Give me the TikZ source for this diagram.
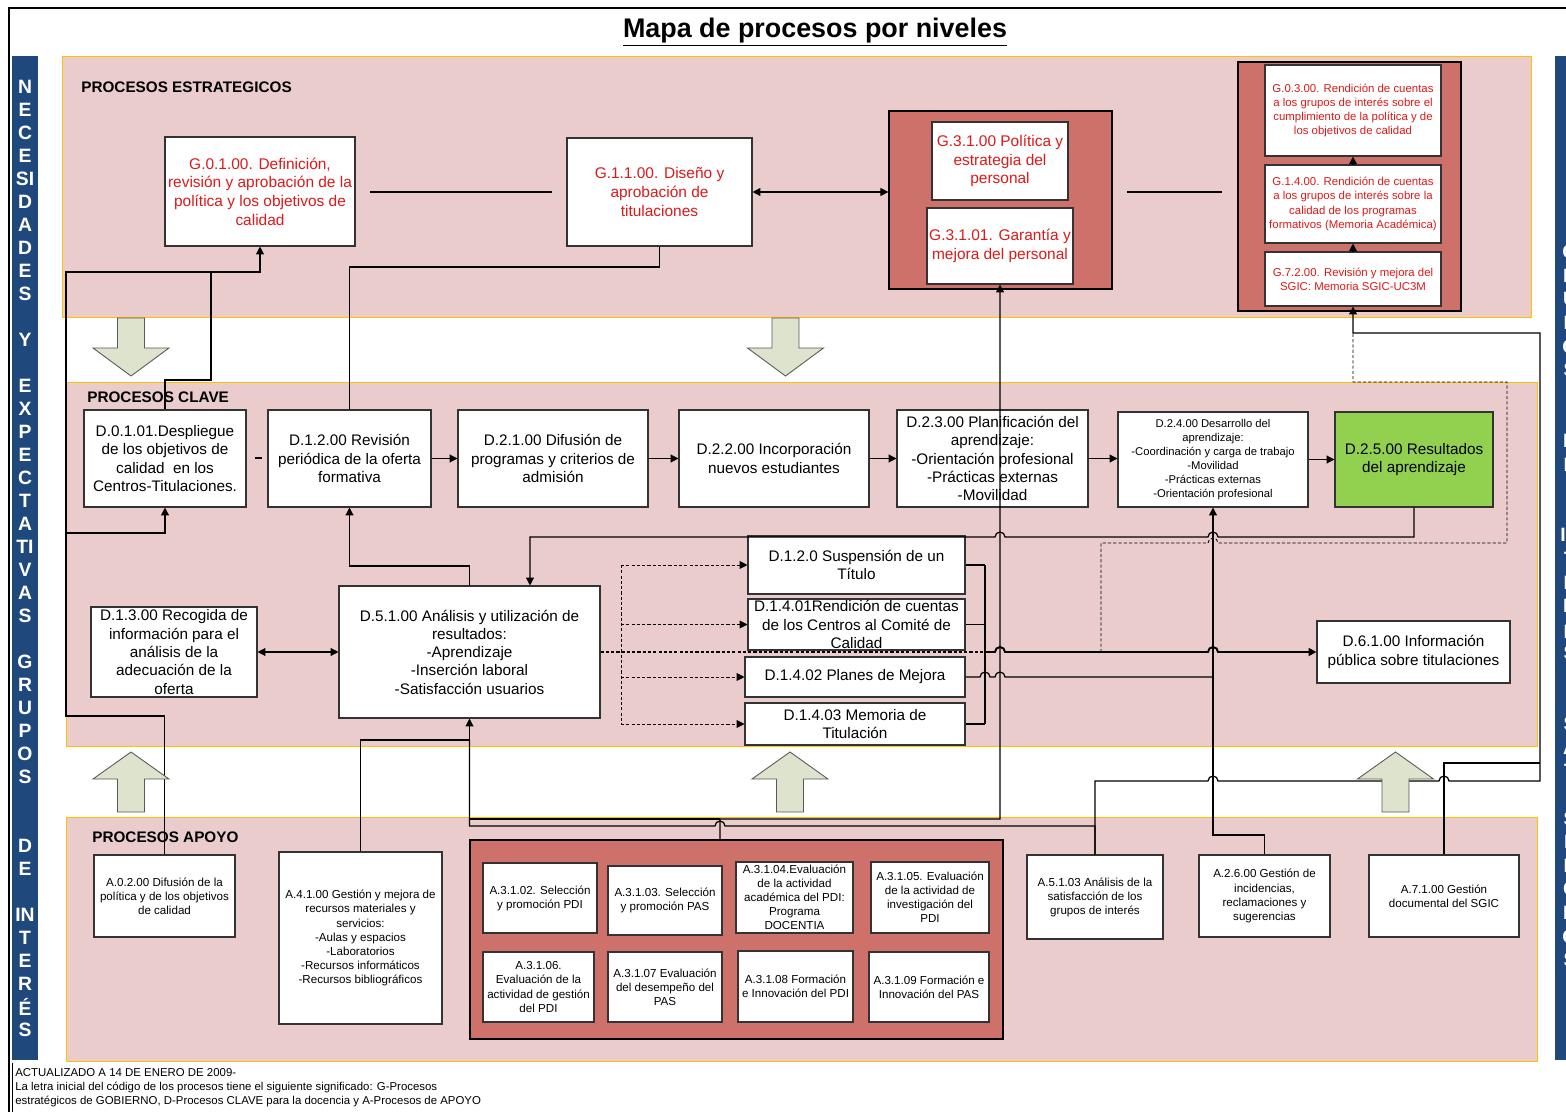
\documentclass[tikz,border=0pt]{standalone}
\usepackage{fontspec}
\setmainfont{Liberation Sans}
\usetikzlibrary{arrows.meta}

\definecolor{bandpink}{RGB}{234,204,204}
\definecolor{bandedge}{RGB}{255,192,0}
\definecolor{grpred}{RGB}{205,113,106}
\definecolor{gred}{RGB}{221,26,26}
\definecolor{dgreen}{RGB}{146,208,80}
\definecolor{barblue}{RGB}{31,73,125}
\definecolor{arrowfill}{RGB}{221,227,204}

\tikzset{
  band/.style={fill=bandpink, draw=bandedge, line width=0.5pt},
  grp/.style={fill=grpred, draw=black, line width=0.7pt},
  sz/.style 2 args={minimum width=#1*0.02cm, minimum height=#2*0.02cm},
  dbox/.style={draw=black!80, fill=white, align=center, inner sep=1pt, line width=0.6pt,
    font=\fontsize{8.7}{10.4}\selectfont},
  abox/.style={dbox, font=\fontsize{6.6}{8}\selectfont},
  gbox/.style={dbox, text=gred, font=\fontsize{8.8}{10.6}\selectfont},
  gsmall/.style={dbox, text=gred, font=\fontsize{6.5}{8}\selectfont},
  seclabel/.style={anchor=west, inner sep=0, font=\bfseries\fontsize{8.7}{10}\selectfont},
  barletter/.style={text=white, inner sep=0, font=\bfseries\fontsize{11}{12}\selectfont},
  conn/.style={draw, line width=0.7pt},
  bigarrow/.style={fill=arrowfill, draw=black!65, line width=0.5pt},
  >={Triangle[length=4.5pt,width=4.5pt]},
  dashed/.style={dash pattern=on 1.8pt off 1.2pt},
}
\newcommand{\hopover}[2]{-- (#1-5,#2) arc[start angle=180,end angle=0,radius=0.1cm]}

\begin{document}
\begin{tikzpicture}[x=0.02cm,y=-0.02cm]
\useasboundingbox (0,0) rectangle (1566,1112);

% frame and title
\draw[line width=1.4pt] (9,1112) -- (9,8) -- (1566,8);
\draw[line width=0.5pt] (12,1063) -- (12,1112);
\node[font=\bfseries\fontsize{15.3}{18}\selectfont] (title) at (815,32) {\underline{Mapa de procesos por niveles}};

% side bars
\fill[barblue] (12,56) rectangle (38,1060);
\foreach \i/\ch in {0/N,1/E,2/C,3/E,4/SI,5/D,6/A,7/D,8/E,9/S,11/Y,13/E,14/X,15/P,16/E,17/C,18/T,19/A,20/TI,21/V,22/A,23/S,
    25/G,26/R,27/U,28/P,29/O,30/S,33/D,34/E,36/IN,37/T,38/E,39/R,40/É,41/S}
  \node[barletter] (nl\i) at (25,87+23*\i) {\ch};
\begin{scope}
  \clip (1555,56) rectangle (1566,1060);
  \fill[barblue] (1555,56) rectangle (1590,1060);
  \foreach \i/\ch in {0/G,1/R,2/U,3/P,4/O,5/S,8/D,9/E,12/IN,13/T,14/E,15/R,16/É,17/S,
      20/S,21/A,22/T,23/I,24/S,25/F,26/E,27/C,28/H,29/O,30/S}
    \node[barletter] (nr\i) at (1570,252+23.6*\i) {\ch};
\end{scope}

% bands
\filldraw[band] (62,56) rectangle (1531,317);
\filldraw[band] (66,382) rectangle (1537,746);
\filldraw[band] (66,817) rectangle (1537,1061);
\node[seclabel] (lstrat) at (81,87) {PROCESOS ESTRATEGICOS};
\node[seclabel] (lclave) at (87,397) {PROCESOS CLAVE};
\node[seclabel] (lapoyo) at (92,837) {PROCESOS APOYO};

% groups
\node[grp, sz={223}{178}] (g31) at (1000.5,200) {};
\node[grp, sz={223}{249}] (gacc) at (1349.5,186.5) {};
\node[grp, sz={533}{199}] (a3grp) at (736.5,939.5) {};

% estrategicos
\node[gbox, sz={190}{109}] (g010) at (260,191.5) {G.0.1.00. Definición,\\revisión y aprobación de la\\política y los objetivos de\\calidad};
\node[gbox, sz={185}{108}] (g110) at (659.5,192) {G.1.1.00. Diseño y\\aprobación de\\titulaciones};
\node[gbox, sz={136}{78}] (g3100) at (1000,161) {G.3.1.00 Política y\\estrategia del\\personal};
\node[gbox, sz={146}{76}] (g3101) at (1000,246) {G.3.1.01. Garantía y\\mejora del personal};
\node[gsmall, sz={176}{91}] (g0300) at (1353,110.5) {G.0.3.00. Rendición de cuentas\\a los grupos de interés sobre el\\cumplimiento de la política y de\\los objetivos de calidad};
\node[gsmall, sz={176}{78}] (g1400) at (1353,204) {G.1.4.00. Rendición de cuentas\\a los grupos de interés sobre la\\calidad de los programas\\formativos (Memoria Académica)};
\node[gsmall, sz={176}{54}] (g7200) at (1353,279) {G.7.2.00. Revisión y mejora del\\SGIC: Memoria SGIC-UC3M};

% clave
\node[dbox, sz={162}{97}] (d0101) at (165,458.5) {D.0.1.01.Despliegue\\de los objetivos de\\calidad~ en los\\Centros-Titulaciones.};
\node[dbox, sz={163}{97}] (d1200) at (349.5,458.5) {D.1.2.00 Revisión\\periódica de la oferta\\formativa};
\node[dbox, sz={190}{97}] (d2100) at (553,458.5) {D.2.1.00 Difusión de\\programas y criterios de\\admisión};
\node[dbox, sz={190}{97}] (d2200) at (774,458.5) {D.2.2.00 Incorporación\\nuevos estudiantes};
\node[dbox, sz={191}{97}] (d2300) at (992.5,458.5) {D.2.3.00 Planificación del\\aprendizaje:\\-Orientación profesional\\-Prácticas externas\\-Movilidad};
\node[dbox, sz={190}{95}, font=\fontsize{6.4}{7.9}\selectfont] (d2400) at (1213,459.5) {D.2.4.00 Desarrollo del\\aprendizaje:\\-Coordinación y carga de trabajo\\-Movilidad\\-Prácticas externas\\-Orientación profesional};
\node[dbox, sz={158}{95}, fill=dgreen] (d2500) at (1414,459.5) {D.2.5.00 Resultados\\del aprendizaje};
\node[dbox, sz={166}{90}] (d1300) at (174,652) {D.1.3.00 Recogida de\\información para el\\análisis de la\\adecuación de la\\oferta};
\node[dbox, sz={261}{132}] (d5100) at (469.5,652) {D.5.1.00 Análisis y utilización de\\resultados:\\-Aprendizaje\\-Inserción laboral\\-Satisfacción usuarios};
\node[dbox, sz={217}{58}] (d1200s) at (856.5,565) {D.1.2.0 Suspensión de un\\Título};
\node[dbox, sz={217}{51}, inner sep=0pt] (d1401) at (856.5,624.5) {D.1.4.01Rendición de cuentas\\de los Centros al Comité de\\Calidad};
\node[dbox, sz={220}{40}] (d1402) at (855,677) {D.1.4.02 Planes de Mejora};
\node[dbox, sz={220}{42}] (d1403) at (855,724) {D.1.4.03 Memoria de\\Titulación};
\node[dbox, sz={193}{62}] (d6100) at (1413.5,652) {D.6.1.00 Información\\pública sobre titulaciones};

% apoyo
\node[abox, sz={141}{82}] (a0200) at (164.5,896) {A.0.2.00 Difusión de la\\política y de los objetivos\\de calidad};
\node[abox, sz={163}{172}] (a4100) at (360.5,938) {A.4.1.00 Gestión y mejora de\\recursos materiales y\\servicios:\\-Aulas y espacios\\-Laboratorios\\-Recursos informáticos\\-Recursos bibliográficos};
\node[abox, sz={114}{70}] (a3102) at (540,898) {A.3.1.02. Selección\\y promoción PDI};
\node[abox, sz={114}{69}] (a3103) at (665,900.5) {A.3.1.03. Selección\\y promoción PAS};
\node[abox, sz={117}{71}, inner sep=0pt] (a3104) at (794.5,897.5) {A.3.1.04.Evaluación\\de la actividad\\académica del PDI:\\Programa\\DOCENTIA};
\node[abox, sz={118}{71}] (a3105) at (930,897.5) {A.3.1.05. Evaluación\\de la actividad de\\investigación del\\PDI};
\node[abox, sz={111}{70}] (a3106) at (538.5,987) {A.3.1.06.\\Evaluación de la\\actividad de gestión\\del PDI};
\node[abox, sz={114}{70}] (a3107) at (665,987) {A.3.1.07 Evaluación\\del desempeño del\\PAS};
\node[abox, sz={115}{71}] (a3108) at (795.5,986.5) {A.3.1.08 Formación\\e Innovación del PDI};
\node[abox, sz={120}{70}] (a3109) at (929,987) {A.3.1.09 Formación e\\Innovación del PAS};
\node[abox, sz={136}{84}] (a5103) at (1095,897) {A.5.1.03 Análisis de la\\satisfacción de los\\grupos de interés};
\node[abox, sz={131}{82}] (a2600) at (1264.5,896) {A.2.6.00 Gestión de\\incidencias,\\reclamaciones y\\sugerencias};
\node[abox, sz={150}{82}] (a7100) at (1444,896) {A.7.1.00 Gestión\\documental del SGIC};

% conectores estrategicos
\coordinate (s1) at (370,192); \coordinate (s2) at (552,192);
\coordinate (s3) at (1127,192); \coordinate (s4) at (1222,192);
\draw[conn] (s1) -- (s2);
\draw[conn] (s3) -- (s4);
\draw[conn,<->] (g110.east) -- (g110.east -| g31.west);
\draw[conn,->] (g1400.north) -- (g0300.south);
\draw[conn,->] (g7200.north) -- (g1400.south);

% hacia G.0.1.00 y D.0.1.01
\draw[conn,->] (d0101.north) -- (165,380) -- (211,380) -- (211,272) -| (g010.south);
\draw[conn] (a0200.north) -- (164.5,716) -- (66,716) -- (66,272) -- (211,272);
\draw[conn,->] (66,533) -| (d0101.south);
\draw[conn] (d1200.north) -- (349.5,267) -| (g110.south);

% cadena clave
\coordinate (k1) at (255,458); \coordinate (k2) at (262,458);
\draw[conn] (k1) -- (k2);
\draw[conn,->] (d1200.east) -- (d2100.west);
\draw[conn,->] (d2100.east) -- (d2200.west);
\draw[conn,->] (d2200.east) -- (d2300.west);
\draw[conn,->] (d2300.east) -- (d2300.east -| d2400.west);
\draw[conn,->] (d2400.east) -- (d2500.west);
\draw[conn,->] (d5100.north) -- (469.5,566) -| (d1200.south);
\draw[conn,<->] (d1300.east) -- (d1300.east -| d5100.west);
\draw[conn,<-] (d5100.north -| 530,0) -- (530,537) \hopover{1000}{537} \hopover{1213}{537} -| (d2500.south);

% D.1.x
\coordinate (dv) at (621,652);
\coordinate (bus) at (985,652);
\draw[conn,dashed] (d5100.east) -- (bus);
\draw[line width=0.5pt,dashed] (d1200s.west -| dv) -- (d1403.west -| dv);
\foreach \b in {d1200s,d1401,d1402,d1403}
  \draw[line width=0.5pt,dashed,->] (\b.west -| dv) -- (\b.west);
\draw[line width=0.5pt,dashed] (1101,652) -- (1101,543) \hopover{1213}{543} -- (1507,543) -- (1507,382) -- (1353,382) -- (1353,333);
\draw[conn] (d1200s.east -| bus) -- (d1403.east -| bus);
\foreach \b in {d1200s,d1401,d1403}
  \draw[conn] (\b.east) -- (\b.east -| bus);
\draw[conn] (d1402.east) \hopover{985}{677} \hopover{1000}{677} -- (1213,677);
\draw[line width=1.1pt,->] (bus) \hopover{1000}{652} \hopover{1213}{652} -- (d6100.west);

% apoyo hacia arriba
\draw[conn,->] ([xshift=-0.33cm]a3grp.north) -- (720,819) -- (1000,819) -- (g3101.south);
\draw[conn] (469.5,819) -- (720,819);
\draw[conn,->] (a4100.north) |- (469.5,740) -- (d5100.south);
\draw[conn] (469.5,740) -- (469.5,826) \hopover{720}{826} -| (a5103.north);
\draw[conn,->] (a5103.north) -- (1095,781) \hopover{1213}{781} \hopover{1444}{781} -- (1540,781) -- (1540,333) -| (g7200.south);
\draw[conn] (a7100.north) |- (1540,763);
\draw[conn,->] (a2600.north) -- (1264.5,835) -| (d2400.south);

% flechas grandes
\foreach \cx in {131,785.5}
  \filldraw[bigarrow] (\cx-13.5,318) -- (\cx+13.5,318) -- (\cx+13.5,348) -- (\cx+38,348) -- (\cx,376) -- (\cx-38,348) -- (\cx-13.5,348) -- cycle;
\foreach \cx in {131,790,1395.5}
  \filldraw[bigarrow] (\cx-13.5,812) -- (\cx+13.5,812) -- (\cx+13.5,779) -- (\cx+38,779) -- (\cx,752) -- (\cx-38,779) -- (\cx-13.5,779) -- cycle;

% nota
\node[anchor=north west, align=left, inner sep=0, font=\fontsize{6.5}{8}\selectfont] (nota) at (15,1068)
  {ACTUALIZADO A 14 DE ENERO DE 2009-\\La letra inicial del código de los procesos tiene el siguiente significado: G-Procesos\\estratégicos de GOBIERNO, D-Procesos CLAVE para la docencia y A-Procesos de APOYO};
\end{tikzpicture}
\end{document}
